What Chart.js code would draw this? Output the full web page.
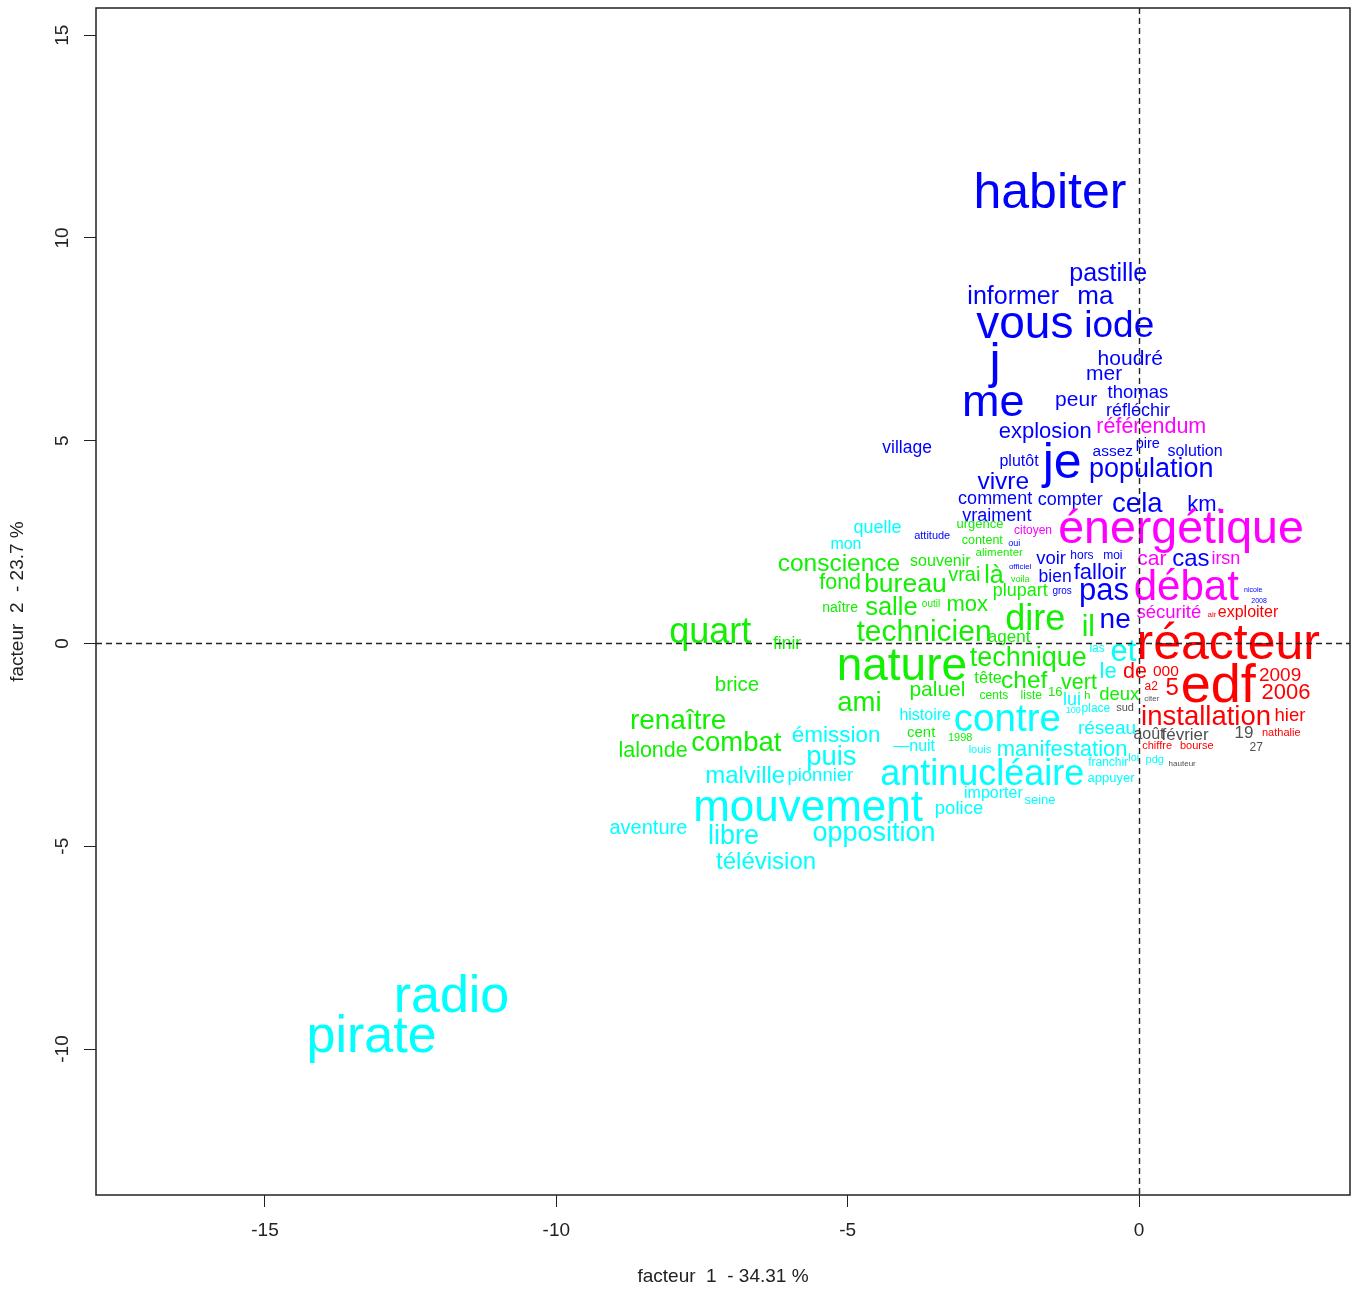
<!DOCTYPE html>
<html><head><meta charset="utf-8">
<script src="https://cdn.jsdelivr.net/npm/chart.js@4/dist/chart.umd.min.js"></script>
<style>html,body{margin:0;padding:0;background:#fff;overflow:hidden}canvas{display:block}</style>
</head><body><canvas id="c" width="1355" height="1293"></canvas>
<script>
// ---------- data ----------
const xTickValues = [-15, -10, -5, 0];
const yTickValues = [-10, -5, 0, 5, 10, 15];
const xAxisTitle = 'facteur  1  - 34.31 %';
const yAxisTitle = 'facteur  2  - 23.7 %';

const blueWords = ['habiter','pastille','informer','ma','vous','iode','j','houdré','mer','thomas','me','peur','réfléchir','explosion','village','assez','pire','solution','plutôt','je','population','vivre','comment','compter','cela','km.','vraiment','attitude','oui','voir','hors','moi','cas','bien','falloir','gros','pas','nicole','2008','officiel','ne'];
const blueX = [-1.53,-0.53,-2.16,-0.75,-1.96,-0.34,-2.47,-0.15,-0.60,-0.02,-2.50,-1.08,-0.02,-1.61,-3.98,-0.45,0.15,0.96,-2.06,-1.32,0.21,-2.33,-2.47,-1.18,-0.03,1.13,-2.44,-3.55,-2.14,-1.51,-0.98,-0.45,0.89,-1.44,-0.67,-1.32,-0.60,1.96,2.06,-2.04,-0.41];
const blueY = [11.14,9.15,8.58,8.58,7.91,7.86,6.95,7.05,6.66,6.21,5.97,6.02,5.77,5.25,4.83,4.76,4.93,4.76,4.51,4.49,4.34,4.02,3.60,3.57,3.48,3.45,3.16,2.66,2.47,2.12,2.19,2.19,2.12,1.65,1.78,1.31,1.33,1.33,1.06,1.90,0.62];
const blueCex = [5.0,2.5,2.5,2.6,4.6,3.7,5.0,2.1,2.1,1.85,4.5,2.1,1.8,2.2,1.75,1.55,1.45,1.6,1.6,5.0,2.7,2.45,1.8,1.8,2.75,2.2,1.8,1.1,0.9,1.85,1.2,1.2,2.4,1.75,2.2,1.0,3.1,0.7,0.7,0.8,2.8];

const magentaWords = ['référendum','énergétique','citoyen','car','irsn','débat','sécurité'];
const magentaX = [0.21,0.72,-1.82,0.22,1.49,0.81,0.51];
const magentaY = [5.37,2.86,2.81,2.10,2.12,1.41,0.79];
const magentaCex = [2.15,4.65,1.2,2.1,1.8,4.2,1.85];

const redWords = ['exploiter','air','réacteur','de','000','2009','edf','a2','5','2006','installation','hier','nathalie','chiffre','bourse'];
const redX = [1.87,1.25,1.53,-0.07,0.46,2.42,1.36,0.21,0.57,2.52,1.15,2.59,2.44,0.31,0.99];
const redY = [0.79,0.71,0.02,-0.67,-0.67,-0.76,-0.99,-1.06,-1.06,-1.18,-1.78,-1.75,-2.19,-2.51,-2.51];
const redCex = [1.6,0.8,5.0,2.15,1.55,1.9,5.4,1.2,2.4,2.2,2.75,1.85,1.1,1.1,1.1];

const grayWords = ['sud','citer','août','février','19','27','hauteur'];
const grayX = [-0.24,0.22,0.17,0.79,1.80,2.01,0.74];
const grayY = [-1.58,-1.36,-2.22,-2.24,-2.19,-2.56,-2.96];
const grayCex = [1.1,0.8,1.6,1.7,1.7,1.2,0.8];

const greenWords = ['urgence','content','conscience','souvenir','alimenter','fond','bureau','vrai','là','voila','plupart','naître','salle','outil','mox','quart','technicien','dire','il','agent','finir','nature','technique','tête','chef','vert','ami','paluel','cents','liste','16','h','deux','brice','renaître','cent','1998','combat','lalonde'];
const greenX = [-2.73,-2.69,-5.15,-3.41,-2.40,-5.13,-4.01,-3.00,-2.49,-2.04,-2.04,-5.13,-4.25,-3.57,-2.95,-7.36,-3.69,-1.78,-0.87,-2.23,-6.04,-4.07,-1.90,-2.59,-1.97,-1.03,-4.80,-3.46,-2.49,-1.85,-1.44,-0.89,-0.34,-6.90,-7.91,-3.74,-3.07,-6.91,-8.34];
const greenY = [2.96,2.56,2.00,2.05,2.24,1.53,1.48,1.70,1.70,1.60,1.33,0.89,0.91,0.99,0.99,0.32,0.32,0.62,0.44,0.17,0.02,-0.52,-0.32,-0.84,-0.89,-0.94,-1.43,-1.13,-1.26,-1.26,-1.18,-1.28,-1.23,-1.01,-1.87,-2.17,-2.32,-2.42,-2.61];
const greenCex = [1.3,1.25,2.45,1.6,1.15,2.15,2.65,2.0,2.5,0.9,1.8,1.4,2.55,1.0,2.2,3.6,3.0,3.6,3.0,1.7,1.75,4.6,2.7,1.65,2.45,2.15,2.75,2.1,1.2,1.2,1.3,1.1,1.85,2.05,2.8,1.5,1.1,2.75,2.15];

const cyanWords = ['quelle','mon','las','et','le','lui','100','place','histoire','contre','réseau','émission','—nuit','louis','manifestation','franchir','loi','pdg','puis','malville','pionnier','antinucléaire','appuyer','importer','seine','mouvement','police','aventure','libre','opposition','télévision','radio','pirate'];
const cyanX = [-4.49,-5.03,-0.72,-0.27,-0.53,-1.15,-1.13,-0.74,-3.67,-2.26,-0.55,-5.20,-3.86,-2.73,-1.32,-0.53,-0.09,0.27,-5.28,-6.76,-5.47,-2.69,-0.48,-2.50,-1.70,-5.68,-3.09,-8.42,-6.96,-4.55,-6.40,-11.80,-13.17];
const cyanY = [2.88,2.47,-0.10,-0.17,-0.67,-1.36,-1.63,-1.58,-1.75,-1.85,-2.07,-2.24,-2.51,-2.61,-2.59,-2.93,-2.81,-2.86,-2.76,-3.25,-3.25,-3.18,-3.30,-3.67,-3.85,-4.02,-4.04,-4.54,-4.71,-4.64,-5.37,-8.65,-9.64];
const cyanCex = [1.8,1.6,1.2,3.1,2.2,1.8,0.9,1.2,1.6,3.85,1.9,2.25,1.6,1.1,2.2,1.2,1.1,1.1,2.75,2.4,1.85,3.6,1.3,1.6,1.3,4.4,1.85,2.0,2.7,2.7,2.4,5.2,5.2];

// ---------- styles ----------
const BASE_PX = 10;
const WORD_FONT = '"Liberation Sans", Arial, sans-serif';
const AXIS_FONT = '19px "Liberation Sans", Arial, sans-serif';
const V_SHIFT_EM = 0.06;

function makeSet(words, xs, ys, cex, color){
  return {
    data: xs.map((x,i)=>({x:x, y:ys[i]})),
    words: words, cex: cex, textColor: color,
    pointRadius: 0, pointHoverRadius: 0, showLine: false
  };
}

const wordPlugin = {
  id: 'words',
  afterDatasetsDraw(chart){
    const ctx = chart.ctx, a = chart.chartArea;
    ctx.save();
    ctx.beginPath(); ctx.rect(a.left, a.top, a.right-a.left, a.bottom-a.top); ctx.clip();
    ctx.textAlign = 'center'; ctx.textBaseline = 'middle';
    chart.data.datasets.forEach((ds, di)=>{
      const meta = chart.getDatasetMeta(di);
      ctx.fillStyle = ds.textColor;
      meta.data.forEach((el, i)=>{
        const px = ds.cex[i]*BASE_PX;
        ctx.font = px.toFixed(1) + 'px ' + WORD_FONT;
        ctx.fillText(ds.words[i], el.x, el.y + px*V_SHIFT_EM);
      });
    });
    // dashed zero lines
    const xs = chart.scales.x, ys = chart.scales.y;
    const x0 = Math.round(xs.getPixelForValue(0)) + 0.5, y0 = Math.round(ys.getPixelForValue(0)) + 0.5;
    ctx.setLineDash([6,4]); ctx.strokeStyle = '#222'; ctx.lineWidth = 1.4;
    ctx.beginPath();
    ctx.moveTo(x0, a.top); ctx.lineTo(x0, a.bottom);
    ctx.moveTo(a.left, y0); ctx.lineTo(a.right, y0);
    ctx.stroke();
    ctx.restore();
  },
  afterDraw(chart){
    const ctx = chart.ctx, a = chart.chartArea;
    const xs = chart.scales.x, ys = chart.scales.y;
    ctx.save();
    ctx.strokeStyle = '#222'; ctx.lineWidth = 1.5;
    ctx.strokeRect(a.left, a.top, a.right-a.left, a.bottom-a.top);
    ctx.fillStyle = '#222'; ctx.font = AXIS_FONT;
    ctx.textAlign = 'center'; ctx.textBaseline = 'middle';
    xTickValues.forEach(v=>{
      ctx.fillText(String(v), xs.getPixelForValue(v), a.bottom + 36);
    });
    yTickValues.forEach(v=>{
      ctx.save();
      ctx.translate(a.left - 33, ys.getPixelForValue(v));
      ctx.rotate(-Math.PI/2);
      ctx.fillText(String(v), 0, 0);
      ctx.restore();
    });
    ctx.fillText(xAxisTitle, (a.left+a.right)/2, a.bottom + 82);
    ctx.save();
    ctx.translate(18, (a.top+a.bottom)/2);
    ctx.rotate(-Math.PI/2);
    ctx.fillText(yAxisTitle, 0, 0);
    ctx.restore();
    ctx.restore();
  }
};

new Chart(document.getElementById('c'), {
  type: 'scatter',
  data: { datasets: [
    makeSet(blueWords, blueX, blueY, blueCex, '#0000ff'),
    makeSet(magentaWords, magentaX, magentaY, magentaCex, '#ff00ff'),
    makeSet(redWords, redX, redY, redCex, '#ff0000'),
    makeSet(grayWords, grayX, grayY, grayCex, '#505050'),
    makeSet(greenWords, greenX, greenY, greenCex, '#11f000'),
    makeSet(cyanWords, cyanX, cyanY, cyanCex, '#00ffff')
  ]},
  options: {
    responsive: false, animation: false, devicePixelRatio: 1,
    layout: { padding: { top: 8, right: 5, bottom: 0, left: 0 } },
    plugins: { legend: { display: false }, tooltip: { enabled: false } },
    events: [],
    scales: {
      x: {
        type: 'linear', min: -17.9, max: 3.62,
        afterBuildTicks: s => { s.ticks = xTickValues.map(v=>({value:v})); },
        afterFit: s => { s.height = 98; },
        ticks: { display: false },
        grid: { drawOnChartArea: false, drawTicks: true, tickLength: 12, color: '#222', lineWidth: 1 },
        border: { display: false }
      },
      y: {
        type: 'linear', min: -13.6, max: 15.67,
        afterBuildTicks: s => { s.ticks = yTickValues.map(v=>({value:v})); },
        afterFit: s => { s.width = 96; },
        ticks: { display: false },
        grid: { drawOnChartArea: false, drawTicks: true, tickLength: 12, color: '#222', lineWidth: 1 },
        border: { display: false }
      }
    }
  },
  plugins: [wordPlugin]
});
</script>
</body></html>
